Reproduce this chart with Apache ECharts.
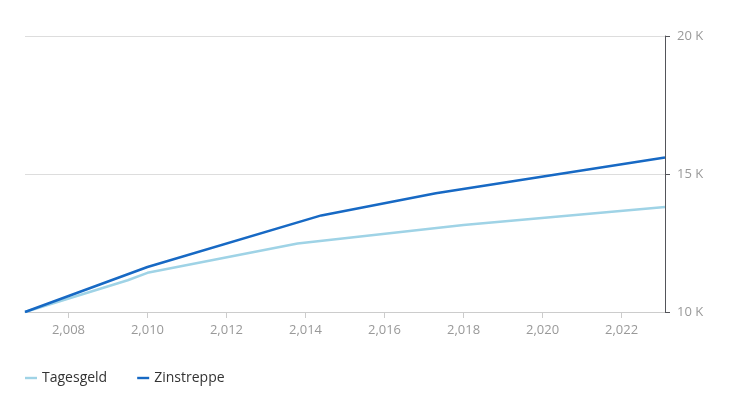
<!DOCTYPE html>
<html><head><meta charset="utf-8">
<script src="https://cdn.jsdelivr.net/npm/echarts@6/dist/echarts.min.js"></script>
<style>body{margin:0}#c{width:731px;height:411px}</style>
</head><body><div id="c"></div>
<script>
var tagesgeld = [[2006.9, 10000], [2009.5, 11150], [2010, 11420], [2013.8, 12480], [2018, 13150], [2023.1, 13800]];
var zinstreppe = [[2006.9, 10000], [2010, 11630], [2014.4, 13500], [2017.3, 14300], [2023.1, 15600]];
var xTicks = [2008, 2010, 2012, 2014, 2016, 2018, 2020, 2022];

var chart = echarts.init(document.getElementById('c'));
chart.setOption({
    animation: false,
    textStyle: { fontFamily: 'Open Sans' },
    color: ['#9fd3e6', '#1769c4'],
    grid: { left: 25, right: 66, top: 36, bottom: 99 },
    legend: {
        left: 20, top: 366, icon: 'path://M0,0H10V2H0Z', itemWidth: 12, itemHeight: 3, itemGap: 30,
        textStyle: { color: '#333', fontSize: 14 }
    },
    xAxis: {
        type: 'value', min: 2006.9, max: 2023.1,
        splitLine: { show: false },
        axisLine: { lineStyle: { color: '#ccc' } },
        axisTick: { show: true, customValues: xTicks, length: 6, lineStyle: { color: '#ccc' } },
        axisLabel: { customValues: xTicks, color: '#999', fontSize: 13, margin: 12 }
    },
    yAxis: {
        type: 'value', position: 'right', min: 10000, max: 20000, interval: 5000,
        axisLabel: { color: '#999', fontSize: 13, margin: 12, formatter: function (v) { return v / 1000 + ' K'; } },
        splitLine: { lineStyle: { color: '#ddd' } }
    },
    series: [
        { name: 'Tagesgeld', type: 'line', data: tagesgeld, symbol: 'none', lineStyle: { width: 2.5 } },
        { name: 'Zinstreppe', type: 'line', data: zinstreppe, symbol: 'none', lineStyle: { width: 2.5 } }
    ]
});
</script></body></html>
